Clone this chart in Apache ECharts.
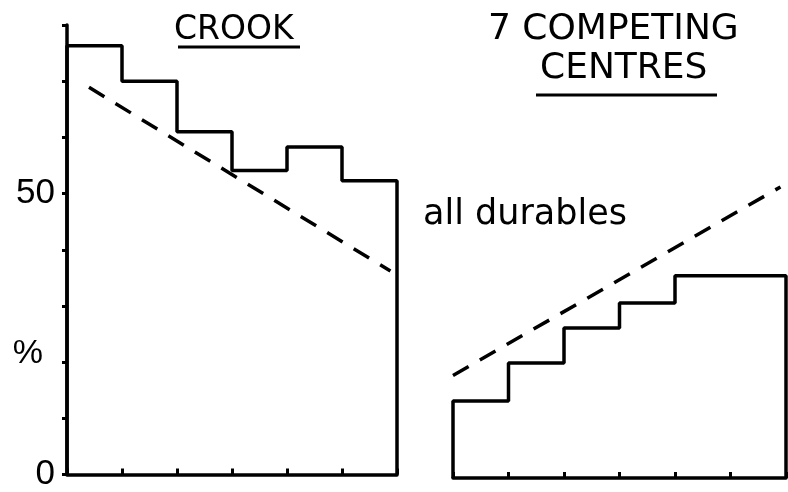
<!DOCTYPE html>
<html>
<head>
<meta charset="utf-8">
<script src="https://cdn.jsdelivr.net/npm/echarts@6/dist/echarts.min.js"></script>
<style>
  html, body { margin: 0; padding: 0; background: #fff; }
  #chart { width: 788px; height: 492px; }
</style>
</head>
<body>
<div id="chart"></div>
<script>
// shares per distance band (%)
const crookSteps = [76.3, 70.0, 61.0, 54.1, 58.3, 52.3]
const competingSteps = [13.6, 20.3, 26.5, 30.9, 35.7, 35.7]
// dashed "all durables" lines: [band, %]
const crookDurables = [[0.4, 68.9], [5.88, 36.2]]
const competingDurables = [[0, 18.1], [5.9, 51.4]]
// y tick labels that show up on the left axis
const yTickLabels = { 0: '0', 20: '%', 50: '50' }

const ink = '#000'
const font = 'DejaVu Sans'

// turn band values into a closed step outline
function stepOutline(vals) {
  const pts = [[0, 0]]
  vals.forEach((v, i) => pts.push([i, v]))
  pts.push([vals.length, vals[vals.length - 1]])
  pts.push([vals.length, 0])
  return pts
}

const chart = echarts.init(document.getElementById('chart'), null, { renderer: 'canvas' })

const xAxisBase = {
  type: 'value',
  min: 0,
  max: 6,
  interval: 1,
  axisLine: { lineStyle: { color: ink, width: 3.5 } },
  axisTick: { inside: true, length: 6, lineStyle: { color: ink, width: 3 } },
  axisLabel: { show: false },
  splitLine: { show: false }
}

chart.setOption({
  animation: false,
  backgroundColor: '#fff',
  grid: [
    { left: 67, top: 25, width: 330, height: 453 },
    { left: 453, top: 25, width: 333, height: 453 }
  ],
  xAxis: [
    { ...xAxisBase, gridIndex: 0 },
    { ...xAxisBase, gridIndex: 1 }
  ],
  yAxis: [
    {
      gridIndex: 0,
      type: 'value',
      min: 0,
      max: 80,
      interval: 10,
      axisLine: { show: true, lineStyle: { color: ink, width: 3.5 } },
      axisTick: { show: true, length: 5, lineStyle: { color: ink, width: 3 } },
      axisLabel: {
        color: ink,
        fontFamily: 'Liberation Sans',
        fontSize: 35,
        margin: 12,
        formatter: v => {
          const t = yTickLabels[v]
          if (!t) return ''
          return v === 20 ? '{pct|' + t + '}' : t
        },
        rich: {
          pct: { fontFamily: 'Liberation Sans', fontSize: 34, color: ink, padding: [0, 12, 18, 0] }
        }
      },
      splitLine: { show: false }
    },
    { gridIndex: 1, type: 'value', min: 0, max: 80, show: false }
  ],
  graphic: [
    { type: 'text', left: 174, top: 14, style: { text: 'CROOK', font: '33px "' + font + '"', fill: ink } },
    { type: 'line', shape: { x1: 178, y1: 47, x2: 300, y2: 47 }, style: { stroke: ink, lineWidth: 3 } },
    { type: 'text', left: 488, top: 12, style: { text: '7 COMPETING', font: '36px "' + font + '"', fill: ink } },
    { type: 'text', left: 540, top: 51, style: { text: 'CENTRES', font: '36px "' + font + '"', fill: ink } },
    { type: 'line', shape: { x1: 536, y1: 95, x2: 717, y2: 95 }, style: { stroke: ink, lineWidth: 3 } },
    { type: 'text', left: 423, top: 197, style: { text: 'all durables', font: '35px "' + font + '"', fill: ink } }
  ],
  series: [
    {
      name: 'Crook',
      type: 'line',
      xAxisIndex: 0,
      yAxisIndex: 0,
      step: 'end',
      data: stepOutline(crookSteps),
      showSymbol: false,
      lineStyle: { color: ink, width: 3.5 }
    },
    {
      name: 'Crook all durables',
      type: 'line',
      xAxisIndex: 0,
      yAxisIndex: 0,
      data: crookDurables,
      showSymbol: false,
      lineStyle: { color: ink, width: 3.5, type: [18, 13] }
    },
    {
      name: '7 competing centres',
      type: 'line',
      xAxisIndex: 1,
      yAxisIndex: 1,
      step: 'end',
      data: stepOutline(competingSteps),
      showSymbol: false,
      lineStyle: { color: ink, width: 3.5 }
    },
    {
      name: '7 competing all durables',
      type: 'line',
      xAxisIndex: 1,
      yAxisIndex: 1,
      data: competingDurables,
      showSymbol: false,
      lineStyle: { color: ink, width: 3.5, type: [18, 13] }
    }
  ]
})
</script>
</body>
</html>
